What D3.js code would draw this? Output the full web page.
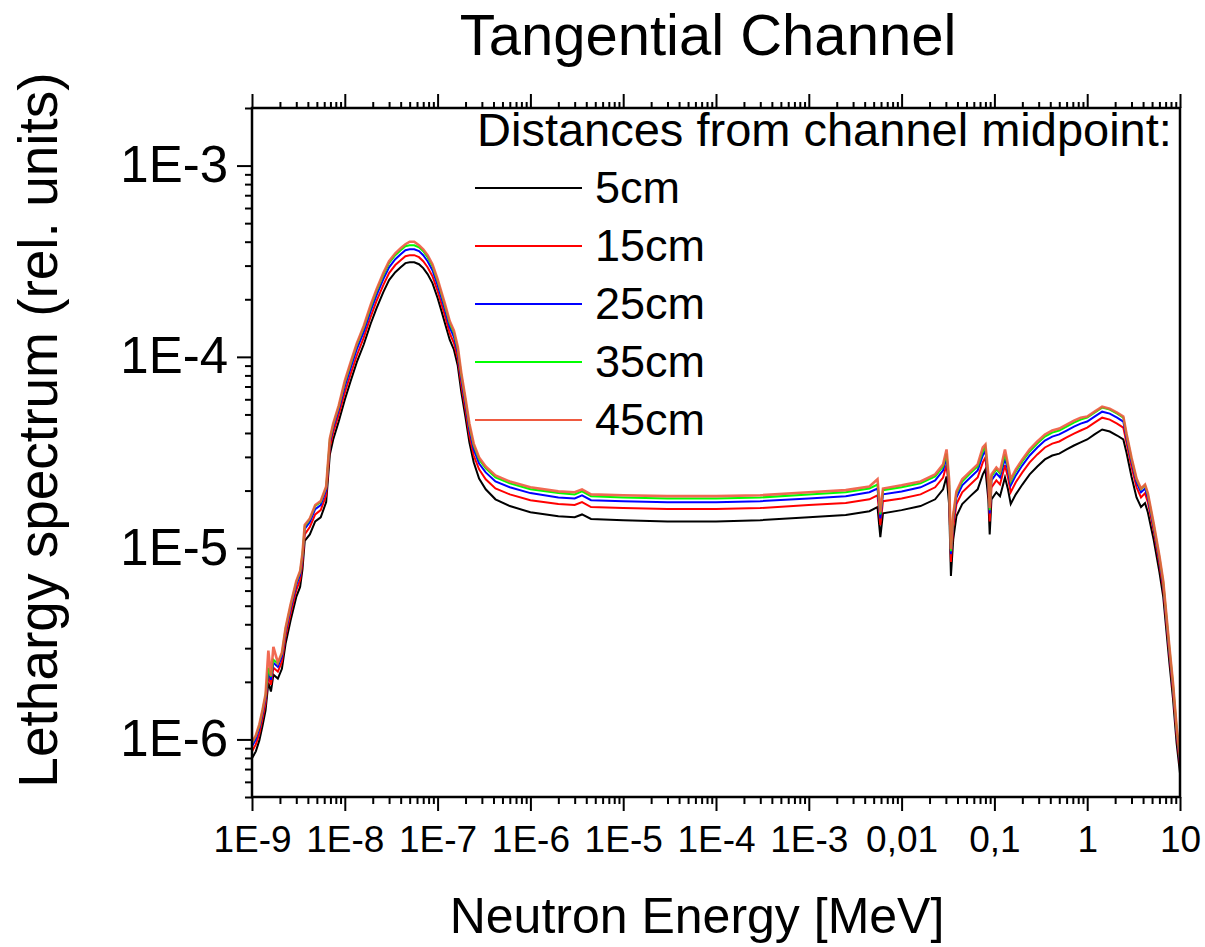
<!DOCTYPE html>
<html>
<head>
<meta charset="utf-8">
<script src="https://cdn.jsdelivr.net/npm/d3@7"></script>
<style>
  body { margin: 0; background: #fff; }
  text { font-family: "Liberation Sans", Arial, sans-serif; fill: #000; }
</style>
</head>
<body>
<svg id="chart" width="1205" height="947"></svg>
<script>
// neutron energy grid [MeV]
const energy = [
  1e-9, 1.1e-9, 1.2e-9, 1.3e-9, 1.4e-9, 1.5e-9, 1.6e-9, 1.7e-9, 1.9e-9, 2.1e-9,
  2.3e-9, 2.6e-9, 3.0e-9, 3.3e-9, 3.5e-9, 3.7e-9, 4.2e-9, 4.8e-9, 5.5e-9, 6.3e-9,
  6.9e-9, 7.5e-9, 8.6e-9, 1.0e-8, 1.15e-8, 1.35e-8, 1.6e-8, 1.9e-8, 2.2e-8, 2.6e-8,
  3.0e-8, 3.5e-8, 4.0e-8, 4.5e-8, 5.0e-8, 5.6e-8, 6.3e-8, 7.0e-8, 7.8e-8, 8.8e-8,
  1.0e-7, 1.1e-7, 1.2e-7, 1.35e-7, 1.5e-7, 1.65e-7, 1.8e-7, 2.0e-7, 2.2e-7, 2.45e-7,
  2.8e-7, 3.3e-7, 4.2e-7, 6.0e-7, 1.0e-6, 2.0e-6, 3.0e-6, 3.6e-6, 4.5e-6, 1.0e-5,
  3.0e-5, 1.0e-4, 3.0e-4, 1.0e-3, 2.5e-3, 4.5e-3, 5.5e-3, 5.9e-3, 6.3e-3, 1.0e-2,
  1.6e-2, 2.3e-2, 2.8e-2, 3.05e-2, 3.25e-2, 3.4e-2, 3.6e-2, 3.9e-2, 4.5e-2, 5.5e-2,
  6.6e-2, 7.5e-2, 8.0e-2, 8.6e-2, 8.9e-2, 9.3e-2, 0.105, 0.115, 0.13, 0.14,
  0.15, 0.17, 0.20, 0.24, 0.29, 0.35, 0.42, 0.50, 0.60, 0.72,
  0.85, 1.0, 1.2, 1.45, 1.75, 2.1, 2.45, 2.65, 3.0, 3.4,
  3.8, 4.2, 4.5, 5.2, 6.0, 6.6, 7.1, 7.7, 8.4, 9.2,
  10
];

// lethargy spectra (rel. units)
const s5cm = [
  7.96e-7, 8.66e-7, 9.88e-7, 1.18e-6, 1.42e-6, 1.98e-6, 1.78e-6, 2.18e-6, 2.08e-6, 2.34e-6,
  3.16e-6, 4.17e-6, 5.56e-6, 6.27e-6, 7.77e-6, 1.09e-5, 1.18e-5, 1.38e-5, 1.45e-5, 1.74e-5,
  3.09e-5, 3.70e-5, 4.59e-5, 5.97e-5, 7.41e-5, 9.42e-5, 1.16e-4, 1.49e-4, 1.80e-4, 2.18e-4,
  2.52e-4, 2.77e-4, 2.94e-4, 3.09e-4, 3.12e-4, 3.12e-4, 3.05e-4, 2.91e-4, 2.71e-4, 2.43e-4,
  2.03e-4, 1.74e-4, 1.50e-4, 1.23e-4, 1.09e-4, 8.98e-5, 6.57e-5, 4.81e-5, 3.57e-5, 2.81e-5,
  2.31e-5, 2.03e-5, 1.80e-5, 1.66e-5, 1.54e-5, 1.47e-5, 1.45e-5, 1.50e-5, 1.42e-5, 1.40e-5,
  1.38e-5, 1.38e-5, 1.40e-5, 1.45e-5, 1.49e-5, 1.56e-5, 1.64e-5, 1.14e-5, 1.52e-5, 1.58e-5,
  1.66e-5, 1.80e-5, 2.03e-5, 2.37e-5, 1.70e-5, 7.15e-6, 1.11e-5, 1.47e-5, 1.70e-5, 1.87e-5,
  2.03e-5, 2.43e-5, 2.58e-5, 1.80e-5, 1.18e-5, 1.80e-5, 1.96e-5, 1.87e-5, 2.34e-5, 2.03e-5,
  1.70e-5, 1.91e-5, 2.15e-5, 2.43e-5, 2.67e-5, 2.91e-5, 3.05e-5, 3.12e-5, 3.28e-5, 3.44e-5,
  3.57e-5, 3.70e-5, 3.93e-5, 4.17e-5, 4.07e-5, 3.88e-5, 3.70e-5, 3.16e-5, 2.37e-5, 1.84e-5,
  1.64e-5, 1.72e-5, 1.54e-5, 1.11e-5, 7.50e-6, 5.56e-6, 3.79e-6, 2.49e-6, 1.64e-6, 9.53e-7,
  6.65e-7
];
const s15cm = [
  8.66e-7, 9.42e-7, 1.07e-6, 1.29e-6, 1.54e-6, 2.15e-6, 1.93e-6, 2.37e-6, 2.26e-6, 2.55e-6,
  3.44e-6, 4.53e-6, 6.04e-6, 6.81e-6, 8.46e-6, 1.18e-5, 1.29e-5, 1.50e-5, 1.58e-5, 1.89e-5,
  3.36e-5, 4.02e-5, 4.99e-5, 6.49e-5, 8.06e-5, 1.02e-4, 1.26e-4, 1.62e-4, 1.96e-4, 2.37e-4,
  2.74e-4, 3.02e-4, 3.20e-4, 3.36e-4, 3.40e-4, 3.40e-4, 3.32e-4, 3.16e-4, 2.94e-4, 2.64e-4,
  2.21e-4, 1.89e-4, 1.64e-4, 1.33e-4, 1.18e-4, 9.76e-5, 7.15e-5, 5.23e-5, 3.88e-5, 3.05e-5,
  2.58e-5, 2.29e-5, 2.05e-5, 1.91e-5, 1.78e-5, 1.70e-5, 1.68e-5, 1.74e-5, 1.64e-5, 1.62e-5,
  1.60e-5, 1.60e-5, 1.62e-5, 1.68e-5, 1.72e-5, 1.80e-5, 1.89e-5, 1.32e-5, 1.76e-5, 1.82e-5,
  1.91e-5, 2.08e-5, 2.34e-5, 2.74e-5, 1.96e-5, 8.46e-6, 1.29e-5, 1.70e-5, 1.96e-5, 2.15e-5,
  2.34e-5, 2.81e-5, 2.98e-5, 2.08e-5, 1.38e-5, 2.08e-5, 2.26e-5, 2.15e-5, 2.71e-5, 2.34e-5,
  1.96e-5, 2.21e-5, 2.49e-5, 2.81e-5, 3.09e-5, 3.36e-5, 3.52e-5, 3.61e-5, 3.79e-5, 3.97e-5,
  4.12e-5, 4.27e-5, 4.53e-5, 4.81e-5, 4.70e-5, 4.48e-5, 4.27e-5, 3.57e-5, 2.67e-5, 2.08e-5,
  1.84e-5, 1.94e-5, 1.74e-5, 1.23e-5, 8.25e-6, 6.12e-6, 4.17e-6, 2.74e-6, 1.80e-6, 1.05e-6,
  7.32e-7
];
const s25cm = [
  9.20e-7, 1.00e-6, 1.14e-6, 1.37e-6, 1.64e-6, 2.29e-6, 2.05e-6, 2.52e-6, 2.40e-6, 2.71e-6,
  3.65e-6, 4.81e-6, 6.42e-6, 7.23e-6, 8.98e-6, 1.26e-5, 1.37e-5, 1.60e-5, 1.68e-5, 2.01e-5,
  3.57e-5, 4.27e-5, 5.30e-5, 6.98e-5, 8.66e-5, 1.10e-4, 1.35e-4, 1.74e-4, 2.10e-4, 2.55e-4,
  2.94e-4, 3.24e-4, 3.44e-4, 3.61e-4, 3.65e-4, 3.65e-4, 3.57e-4, 3.40e-4, 3.16e-4, 2.84e-4,
  2.37e-4, 2.03e-4, 1.76e-4, 1.43e-4, 1.27e-4, 1.05e-4, 7.68e-5, 5.62e-5, 4.17e-5, 3.28e-5,
  2.77e-5, 2.49e-5, 2.23e-5, 2.08e-5, 1.94e-5, 1.84e-5, 1.82e-5, 1.89e-5, 1.78e-5, 1.76e-5,
  1.74e-5, 1.74e-5, 1.76e-5, 1.82e-5, 1.87e-5, 1.96e-5, 2.05e-5, 1.43e-5, 1.91e-5, 1.98e-5,
  2.08e-5, 2.26e-5, 2.55e-5, 2.98e-5, 2.13e-5, 9.31e-6, 1.40e-5, 1.84e-5, 2.13e-5, 2.34e-5,
  2.55e-5, 3.05e-5, 3.24e-5, 2.26e-5, 1.52e-5, 2.26e-5, 2.46e-5, 2.34e-5, 2.94e-5, 2.55e-5,
  2.13e-5, 2.40e-5, 2.71e-5, 3.05e-5, 3.36e-5, 3.65e-5, 3.83e-5, 3.93e-5, 4.12e-5, 4.32e-5,
  4.48e-5, 4.59e-5, 4.87e-5, 5.17e-5, 5.05e-5, 4.81e-5, 4.59e-5, 3.79e-5, 2.84e-5, 2.21e-5,
  1.96e-5, 2.05e-5, 1.84e-5, 1.29e-5, 8.66e-6, 6.42e-6, 4.37e-6, 2.87e-6, 1.89e-6, 1.10e-6,
  7.68e-7
];
const s35cm = [
  9.53e-7, 1.04e-6, 1.18e-6, 1.42e-6, 1.70e-6, 2.37e-6, 2.13e-6, 2.61e-6, 2.49e-6, 2.81e-6,
  3.79e-6, 4.99e-6, 6.65e-6, 7.50e-6, 9.31e-6, 1.30e-5, 1.42e-5, 1.66e-5, 1.74e-5, 2.08e-5,
  3.70e-5, 4.42e-5, 5.49e-5, 7.32e-5, 9.09e-5, 1.16e-4, 1.42e-4, 1.82e-4, 2.21e-4, 2.67e-4,
  3.09e-4, 3.40e-4, 3.61e-4, 3.79e-4, 3.83e-4, 3.83e-4, 3.74e-4, 3.57e-4, 3.32e-4, 2.98e-4,
  2.49e-4, 2.13e-4, 1.84e-4, 1.50e-4, 1.33e-4, 1.10e-4, 8.06e-5, 5.90e-5, 4.37e-5, 3.44e-5,
  2.91e-5, 2.61e-5, 2.34e-5, 2.18e-5, 2.03e-5, 1.94e-5, 1.91e-5, 1.98e-5, 1.87e-5, 1.84e-5,
  1.82e-5, 1.82e-5, 1.84e-5, 1.91e-5, 1.96e-5, 2.05e-5, 2.15e-5, 1.50e-5, 2.01e-5, 2.08e-5,
  2.18e-5, 2.37e-5, 2.67e-5, 3.12e-5, 2.23e-5, 9.65e-6, 1.47e-5, 1.94e-5, 2.23e-5, 2.46e-5,
  2.67e-5, 3.20e-5, 3.40e-5, 2.37e-5, 1.58e-5, 2.37e-5, 2.58e-5, 2.46e-5, 3.09e-5, 2.67e-5,
  2.23e-5, 2.52e-5, 2.84e-5, 3.20e-5, 3.52e-5, 3.83e-5, 4.02e-5, 4.12e-5, 4.32e-5, 4.53e-5,
  4.70e-5, 4.81e-5, 5.11e-5, 5.43e-5, 5.30e-5, 5.05e-5, 4.81e-5, 3.93e-5, 2.94e-5, 2.29e-5,
  2.03e-5, 2.13e-5, 1.91e-5, 1.33e-5, 8.98e-6, 6.65e-6, 4.53e-6, 2.98e-6, 1.96e-6, 1.14e-6,
  7.96e-7
];
const s45cm = [
  9.65e-7, 1.05e-6, 1.20e-6, 1.43e-6, 1.72e-6, 2.91e-6, 2.15e-6, 3.05e-6, 2.52e-6, 2.84e-6,
  3.83e-6, 5.05e-6, 6.73e-6, 7.59e-6, 9.42e-6, 1.32e-5, 1.43e-5, 1.68e-5, 1.76e-5, 2.10e-5,
  3.74e-5, 4.48e-5, 5.56e-5, 7.50e-5, 9.31e-5, 1.18e-4, 1.45e-4, 1.87e-4, 2.26e-4, 2.74e-4,
  3.16e-4, 3.48e-4, 3.70e-4, 3.88e-4, 4.00e-4, 4.00e-4, 3.83e-4, 3.65e-4, 3.40e-4, 3.05e-4,
  2.55e-4, 2.18e-4, 1.89e-4, 1.54e-4, 1.37e-4, 1.13e-4, 8.25e-5, 6.04e-5, 4.48e-5, 3.52e-5,
  2.98e-5, 2.67e-5, 2.40e-5, 2.23e-5, 2.08e-5, 1.98e-5, 1.96e-5, 2.03e-5, 1.91e-5, 1.89e-5,
  1.87e-5, 1.87e-5, 1.89e-5, 1.96e-5, 2.01e-5, 2.10e-5, 2.29e-5, 1.54e-5, 2.05e-5, 2.13e-5,
  2.23e-5, 2.43e-5, 2.74e-5, 3.28e-5, 2.29e-5, 9.88e-6, 1.50e-5, 1.98e-5, 2.29e-5, 2.52e-5,
  2.74e-5, 3.36e-5, 3.48e-5, 2.43e-5, 1.62e-5, 2.43e-5, 2.64e-5, 2.52e-5, 3.28e-5, 2.74e-5,
  2.29e-5, 2.58e-5, 2.91e-5, 3.28e-5, 3.61e-5, 3.93e-5, 4.12e-5, 4.22e-5, 4.42e-5, 4.64e-5,
  4.81e-5, 4.87e-5, 5.17e-5, 5.49e-5, 5.36e-5, 5.11e-5, 4.87e-5, 3.97e-5, 2.98e-5, 2.31e-5,
  2.05e-5, 2.15e-5, 1.94e-5, 1.35e-5, 9.09e-6, 6.73e-6, 4.59e-6, 3.02e-6, 1.98e-6, 1.16e-6,
  8.06e-7
];

const seriesNames = ["5cm", "15cm", "25cm", "35cm", "45cm"];
const seriesColors = ["#000000", "#ff0000", "#0000ff", "#00ff00", "#ef5a40"];
const seriesValues = [s5cm, s15cm, s25cm, s35cm, s45cm];

const xTickValues = [1e-9, 1e-8, 1e-7, 1e-6, 1e-5, 1e-4, 1e-3, 1e-2, 1e-1, 1, 10];
const xTickLabels = ["1E-9", "1E-8", "1E-7", "1E-6", "1E-5", "1E-4", "1E-3", "0,01", "0,1", "1", "10"];
const yTickValues = [1e-6, 1e-5, 1e-4, 1e-3];
const yTickLabels = ["1E-6", "1E-5", "1E-4", "1E-3"];

// layout
const width = 1205;
const height = 947;
const margin = { top: 108, right: 25, bottom: 150, left: 252 };
const plotW = width - margin.left - margin.right;
const plotH = height - margin.top - margin.bottom;

const svg = d3.select("#chart");
const g = svg.append("g").attr("transform", `translate(${margin.left},${margin.top})`);

const x = d3.scaleLog().domain([1e-9, 10]).range([0, plotW]);
const y = d3.scaleLog().domain([5e-7, 2e-3]).range([plotH, 0]);

// minor ticks 2..9 per decade
function minorTicks(scale) {
  const [lo, hi] = scale.domain();
  const out = [];
  for (let k = Math.floor(Math.log10(lo)); k <= Math.ceil(Math.log10(hi)); k++) {
    for (let m = 2; m <= 9; m++) {
      const v = m * Math.pow(10, k);
      if (v >= lo * 0.999 && v <= hi * 1.001) out.push(v);
    }
  }
  return out;
}
const xMinor = minorTicks(x);
const yMinor = minorTicks(y);

function styleAxis(sel) {
  sel.select(".domain").remove();
  sel.selectAll(".tick line").attr("stroke", "#000").attr("stroke-width", 2);
}

// bottom axis
g.append("g")
  .attr("transform", `translate(0,${plotH})`)
  .call(d3.axisBottom(x).tickValues(xMinor).tickSize(7).tickFormat(""))
  .call(styleAxis);
const xAxis = g.append("g")
  .attr("transform", `translate(0,${plotH})`)
  .call(d3.axisBottom(x).tickValues(xTickValues).tickSize(14)
    .tickFormat((d, i) => xTickLabels[i]))
  .call(styleAxis);
xAxis.selectAll(".tick text")
  .attr("y", 55).attr("dy", null)
  .style("font-size", "37px")
  .style("font-family", "'Liberation Sans', Arial, sans-serif")
  .attr("fill", "#000");

// top axis
g.append("g")
  .call(d3.axisTop(x).tickValues(xMinor).tickSize(6).tickFormat(""))
  .call(styleAxis);
g.append("g")
  .call(d3.axisTop(x).tickValues(xTickValues).tickSize(14).tickFormat(""))
  .call(styleAxis);

// left axis
g.append("g")
  .call(d3.axisLeft(y).tickValues(yMinor).tickSize(7).tickFormat(""))
  .call(styleAxis);
const yAxis = g.append("g")
  .call(d3.axisLeft(y).tickValues(yTickValues).tickSize(15)
    .tickFormat((d, i) => yTickLabels[i]))
  .call(styleAxis);
yAxis.selectAll(".tick text")
  .attr("x", -24).attr("y", 16).attr("dy", null)
  .style("font-size", "51px")
  .style("font-family", "'Liberation Sans', Arial, sans-serif")
  .attr("fill", "#000");

// clip + lines
g.append("clipPath").attr("id", "plot-clip")
  .append("rect").attr("width", plotW).attr("height", plotH);

const line = d3.line()
  .x(d => x(d[0]))
  .y(d => y(d[1]));

const lines = g.append("g").attr("clip-path", "url(#plot-clip)");
seriesValues.forEach((vals, i) => {
  lines.append("path")
    .datum(energy.map((e, j) => [e, vals[j]]))
    .attr("fill", "none")
    .attr("stroke", seriesColors[i])
    .attr("stroke-width", i === 4 ? 2.6 : 2)
    .attr("stroke-opacity", i === 4 ? 0.9 : 1)
    .attr("d", line);
});

// frame
g.append("rect")
  .attr("width", plotW).attr("height", plotH)
  .attr("fill", "none").attr("stroke", "#000").attr("stroke-width", 2.5);

// legend
const legend = svg.append("g");
legend.append("text")
  .attr("x", 477).attr("y", 146)
  .style("font-size", "47px")
  .text("Distances from channel midpoint:");
seriesNames.forEach((name, i) => {
  const ly = 188 + i * 58;
  legend.append("line")
    .attr("x1", 475).attr("x2", 582).attr("y1", ly).attr("y2", ly)
    .attr("stroke", seriesColors[i]).attr("stroke-width", 2);
  legend.append("text")
    .attr("x", 595).attr("y", ly + 15)
    .style("font-size", "45px")
    .text(name);
});

// titles
svg.append("text")
  .attr("x", 708).attr("y", 55)
  .attr("text-anchor", "middle")
  .style("font-size", "58px")
  .text("Tangential Channel");

svg.append("text")
  .attr("x", 697).attr("y", 933)
  .attr("text-anchor", "middle")
  .style("font-size", "50px")
  .text("Neutron Energy [MeV]");

svg.append("text")
  .attr("transform", "translate(57,430) rotate(-90)")
  .attr("text-anchor", "middle")
  .style("font-size", "55px")
  .text("Lethargy spectrum (rel. units)");
</script>
</body>
</html>
